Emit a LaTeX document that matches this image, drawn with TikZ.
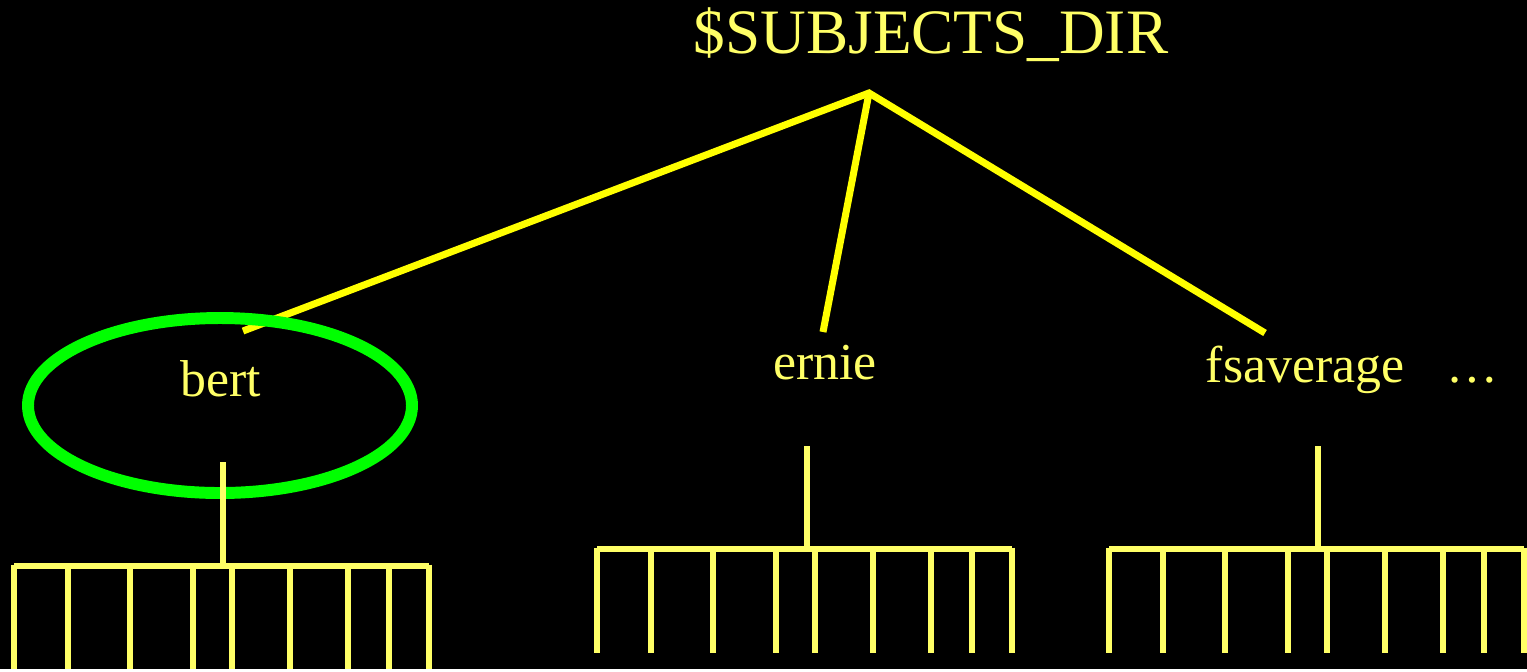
\documentclass[tikz,border=0pt]{standalone}
\usepackage{fontspec}
\setmainfont{Liberation Serif}
\usetikzlibrary{positioning}
\definecolor{dirYellow}{HTML}{FFFF00}
\definecolor{txtYellow}{HTML}{FFFF66}
\definecolor{selGreen}{HTML}{00FF00}

\begin{document}
\begin{tikzpicture}[x=0.02cm, y=-0.02cm,
  rootlabel/.style={text=txtYellow, anchor=base, inner sep=0pt,
                    font=\fontsize{36}{40}\selectfont},
  dirlabel/.style={text=txtYellow, anchor=base, inner sep=0pt,
                   font=\fontsize{29.5}{32}\selectfont},
  branch/.style={draw=dirYellow, line width=4pt},
  comb/.style={draw=txtYellow, line width=3pt}]
  \fill[black] (0,0) rectangle (1527,669);
  \node[rootlabel] (root) at (931,53) {\$SUBJECTS\_DIR};
  \node[dirlabel] (bert) at (221,396) {bert};
  \node[dirlabel] (ernie) at (825,379) {ernie};
  \node[dirlabel] (fsav) at (1305,382) {fsaverage};
  \node[dirlabel] (more) at (1472,382) {…};
  % branches from the root folder
  \coordinate (apex) at (869,93);
  \coordinate (bert-in) at (243,331);
  \coordinate (ernie-in) at (823,332);
  \coordinate (fsav-in) at (1265,333);
  \draw[branch] (bert-in) -- (apex) -- (fsav-in);
  \draw[branch] (apex) -- (ernie-in);
  % selected subject
  \draw[selGreen, line width=6.8pt] (220,405.5) ellipse [x radius=192, y radius=87.5];
  % sub-folder combs: stem x / bar start / stem top / bar y / tooth end
  \foreach \s/\bx/\ty/\by/\bot in {223/14/462/566/669, 807/597/446/549/653, 1318/1109/446/549/653}{
    \coordinate (stem) at (\s,\ty);
    \coordinate (bar) at (\s,\by);
    \draw[comb] (stem) -- (bar);
    \draw[comb] (\bx,\by) -- ++(415,0);
    \foreach \d in {0,54,116,179,218,276,334,375,415}
      \draw[comb] (\bx+\d,\by-1.4) -- (\bx+\d,\bot);
  }
\end{tikzpicture}
\end{document}
